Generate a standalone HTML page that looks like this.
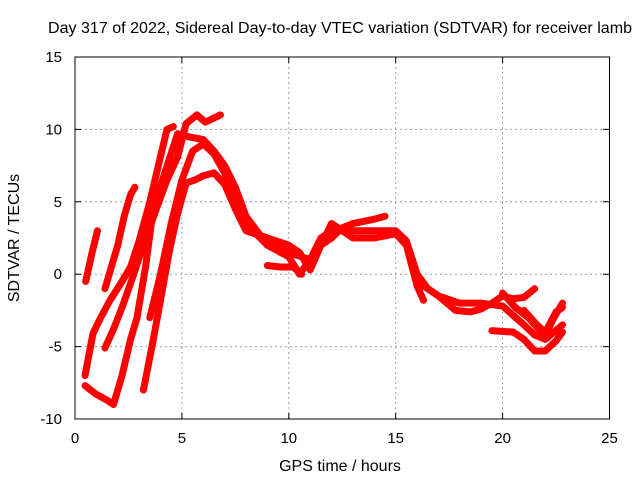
<!DOCTYPE html>
<html><head><meta charset="utf-8"><style>
body{margin:0;background:#fff;}
svg text{font-family:"Liberation Sans",sans-serif;font-size:15px;fill:#000;}
svg text.big{font-size:16px;}
</style></head><body>
<svg id="chart" width="640" height="480" xmlns="http://www.w3.org/2000/svg">
<rect width="640" height="480" fill="#fff"/>
<g id="grid"></g>
<g id="series"></g>
<rect x="75" y="57" width="534.5" height="362" fill="none" stroke="#000" stroke-width="1"/>
<g id="ticks"></g>
<text class="big" x="48" y="33" text-anchor="start" textLength="584" lengthAdjust="spacingAndGlyphs">Day 317 of 2022, Sidereal Day-to-day VTEC variation (SDTVAR) for receiver lamb</text>
<text class="big" x="340" y="471" text-anchor="middle">GPS time / hours</text>
<text class="big" x="0" y="0" text-anchor="middle" transform="translate(19,238) rotate(-90)">SDTVAR / TECUs</text>
</svg>
<script>
const xTicks=[0,5,10,15,20,25];
const yTicks=[-10,-5,0,5,10,15];
const sA=[[0.5,-0.5],[0.8,1.5],[1.05,3]];
const sB=[[1.4,-1],[1.7,0.5],[2,2],[2.3,4],[2.6,5.5],[2.8,6]];
const sC=[[0.47,-7],[0.84,-4.1],[1.2,-3],[1.64,-1.8],[2.2,-0.5],[2.6,0.5],[3,2.3],[3.5,5],[3.9,7.5],[4.3,10],[4.6,10.2]];
const sD=[[1.4,-5.1],[1.8,-3.8],[2.2,-2.3],[2.7,-0.2],[3.2,2],[3.8,4.5],[4.3,6.5],[4.8,8.1],[5.2,10.4],[5.7,11],[6.1,10.5],[6.8,11]];
const sE=[[0.47,-7.7],[1,-8.3],[1.5,-8.7],[1.8,-9],[2.2,-7],[2.6,-4.5],[2.9,-3],[3.3,0.5],[3.65,4.4],[4.2,7],[4.8,9.7],[5.3,9.5],[6,9.3],[6.5,8.5],[7,7.5],[7.5,6],[8,4],[8.5,3],[9,2],[10,1.5],[11,1],[11.5,2.5],[12,3],[13,3],[14,3],[15,3],[15.5,2.3],[16,0],[16.5,-1],[17,-1.5],[18,-2],[19,-2],[20,-2.2],[21,-3.5],[21.5,-4.2],[22,-4.5],[22.8,-3.5]];
const sF=[[3.2,-8],[3.6,-5],[4,-1.8],[4.4,1.5],[4.8,4.2],[5.2,6.3],[5.6,6.5],[6,6.8],[6.5,7],[7,6.2],[7.5,4.5],[8,3],[9,2.5],[10,2],[10.5,1.5],[11,0.3],[11.5,2],[12,3.5],[12.5,3],[13,2.5],[14,2.5],[15,2.8],[15.5,2],[16,-0.8],[16.3,-1.8]];
const sG=[[3.5,-3],[4,0],[4.5,3.5],[5,6.5],[5.5,8.5],[6,9],[6.5,8.3],[7,7],[7.5,5],[8,3.5],[9,2],[10,1.2],[10.5,0],[11,1],[11.5,2],[12,2.5],[12.5,3.2],[13,3.5],[14,3.8],[14.5,4]];
const sH=[[9,0.6],[9.6,0.5],[10.2,0.5],[10.6,0]];
const sI=[[16,-0.5],[17,-1.5],[17.8,-2.5],[18.5,-2.6],[19,-2.4],[19.5,-2],[20,-1.5],[20.5,-1.7],[21,-1.6],[21.5,-1]];
const sJ=[[19.5,-3.9],[20.5,-4],[21,-4.5],[21.5,-5.3],[22,-5.3],[22.5,-4.6],[22.8,-4]];
const sK=[[20,-1.3],[20.6,-2.3],[21.2,-3],[21.7,-3.8],[22,-4.2],[22.4,-3],[22.8,-2]];
const sL=[[21,-2.5],[21.6,-3.5],[22,-4],[22.5,-2.6],[22.8,-2.3]];
const allSeries=[sA,sB,sC,sD,sE,sF,sG,sH,sI,sJ,sK,sL];
const NS="http://www.w3.org/2000/svg";
const X=v=>75+v*21.38;
const Y=v=>274.2-v*14.48;
const grid=document.getElementById('grid'),ticks=document.getElementById('ticks'),ser=document.getElementById('series');
function mk(tag,attrs,parent){const e=document.createElementNS(NS,tag);for(const k in attrs)e.setAttribute(k,attrs[k]);parent.appendChild(e);return e;}
xTicks.forEach(t=>{
  if(t>0&&t<25){const g=mk('line',{x1:X(t),x2:X(t),y1:57,y2:419,stroke:'#a0a0a0','stroke-dasharray':'2,3'},grid);
  
  }
  const tk=mk('path',{d:`M${X(t)},419v-6M${X(t)},57v6`,stroke:'#000'},ticks);
  
  
  const l=mk('text',{x:X(t),y:443,'text-anchor':'middle'},ticks);l.textContent=t;
  
  
});
yTicks.forEach(t=>{
  if(t>-10&&t<15){const g=mk('line',{x1:75,x2:609,y1:Y(t),y2:Y(t),stroke:'#a0a0a0','stroke-dasharray':'2,3'},grid);
  
  }
  const tk=mk('path',{d:`M75,${Y(t)}h6M609,${Y(t)}h-6`,stroke:'#000'},ticks);
  
  
  const l=mk('text',{x:62,y:Y(t)+5,'text-anchor':'end'},ticks);l.textContent=t;
  
  
});
allSeries.forEach((s,i)=>{
  const p=mk('polyline',{points:s.map(d=>X(d[0])+','+Y(d[1])).join(' '),fill:'none',stroke:'#ff0000','stroke-width':7,'stroke-linejoin':'round','stroke-linecap':'round'},ser);
  
  
});
</script>
</body></html>
